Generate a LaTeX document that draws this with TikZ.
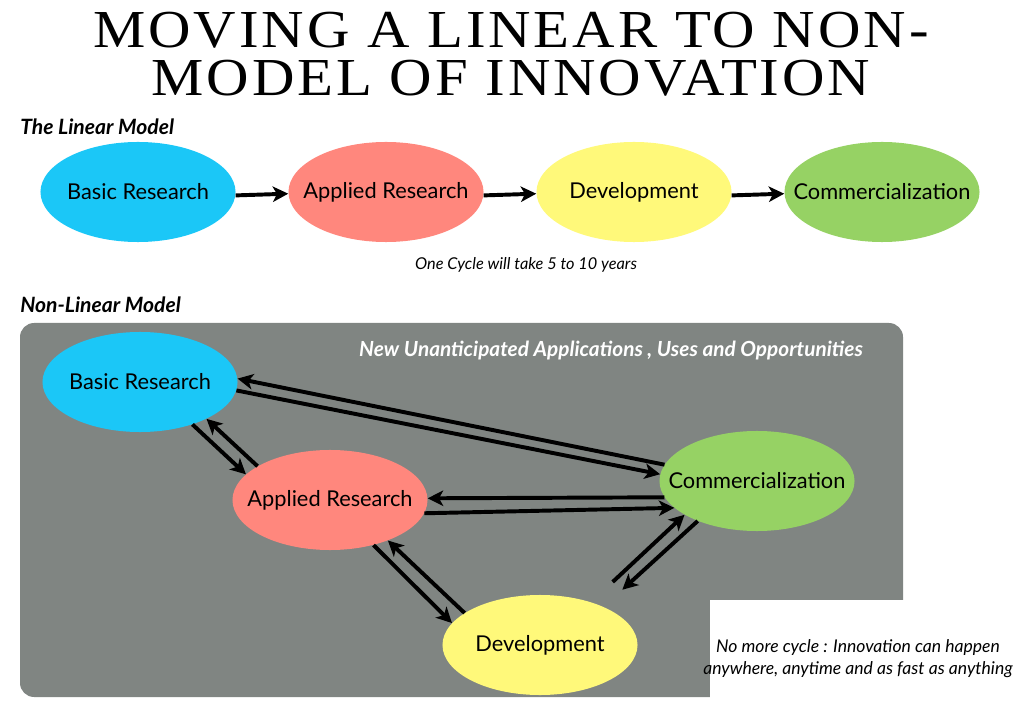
\documentclass[tikz,border=0pt]{standalone}
\usepackage{fontspec}
\setmainfont{Lato}
\newfontfamily\titlefont[LetterSpace=5]{Liberation Serif}
\usepackage{tikz}
\usetikzlibrary{arrows.meta, positioning, shapes.geometric}
\definecolor{cblue}{RGB}{27,199,247}
\definecolor{csalmon}{RGB}{255,135,125}
\definecolor{cyellow}{RGB}{255,249,122}
\definecolor{cgreen}{RGB}{150,210,100}
\definecolor{cpanel}{RGB}{128,133,130}
\begin{document}
\begin{tikzpicture}[
    x=0.025cm, y=-0.025cm,
    >=Stealth,
    arr/.style={-{Stealth[length=11pt, width=11pt, inset=3pt]}, line width=2.8pt},
    oval/.style={ellipse, minimum width=4.875cm, minimum height=2.5cm, inner xsep=-14pt, inner ysep=0pt, font=\fontsize{15.5}{17}\selectfont},
    hd/.style={font=\fontsize{15}{17}\selectfont\bfseries\itshape, anchor=base west, inner sep=0pt},
    note/.style={font=\fontsize{11.6}{15.6}\selectfont\itshape, align=center},
    ttl/.style={font=\titlefont\fontsize{38}{38}\selectfont, anchor=base, inner sep=0pt},
]
\useasboundingbox (0,0) rectangle (1018,701);
% === Title ===
\node[ttl] (title1) at (511,48) {\scalebox{1.1}[1]{MOVING A LINEAR TO NON-}};
\node[ttl] (title2) at (511,96) {\scalebox{1.1}[1]{MODEL OF INNOVATION}};
% === Linear model ===
\node[hd] (linhd) at (20,135) {The Linear Model};
\foreach \i/\n/\t/\c in {0/lbr/Basic Research/cblue, 1/lar/Applied Research/csalmon, 2/ldv/Development/cyellow, 3/lcm/Commercialization/cgreen} {
    \node[oval, fill=\c] (\n) at (138+\i*248, 192) {\t};
}
\foreach \a/\b in {lbr/lar, lar/ldv, ldv/lcm} {
    \draw[arr] (\a.-2) -- (\b.181);
}
\node[note, anchor=base] (cycle) at (526,270) {One Cycle will take 5 to 10 years};
% === Non-linear model ===
\node[hd] (nlhd) at (20,313) {Non-Linear Model};
\fill[cpanel, rounded corners=10pt] (20,323) rectangle (903,697);
\fill[white] (710,600) rectangle (1018,701);
\node[hd, anchor=base, font=\fontsize{14.8}{17}\selectfont\bfseries\itshape, text=white] (newapp) at (611,357) {New Unanticipated Applications , Uses and Opportunities};
%
\node[oval, fill=cblue] (nbr) at (140,382) {Basic Research};
\node[oval, fill=csalmon] (nar) at (330,500) {Applied Research};
\node[oval, fill=cgreen] (ncm) at (757,481) {Commercialization};
\node[oval, fill=cyellow] (ndv) at (540,645) {Development};
% pairs of arrows, one each way
\foreach \s/\sa/\t/\ta in {ncm/170/nbr/2, nbr/-5/ncm/176,
                           nbr/-39/nar/163, nar/155/nbr/-29,
                           ncm/190/nar/1, nar/-8/ncm/198,
                           nar/-46/ndv/166, ndv/157/nar/-35} {
    \draw[arr] (\s.\sa) -- (\t.\ta);
}
\draw[arr, shorten <=21pt] (ndv.40) -- (ncm.205);
\draw[arr, shorten >=18pt] (ncm.214) -- (ndv.31);
\node[note, font=\fontsize{12.5}{15.6}\selectfont\itshape] (nocycle) at (858,659) {No more cycle : Innovation can happen\\anywhere, anytime and as fast as anything};
\end{tikzpicture}
\end{document}
